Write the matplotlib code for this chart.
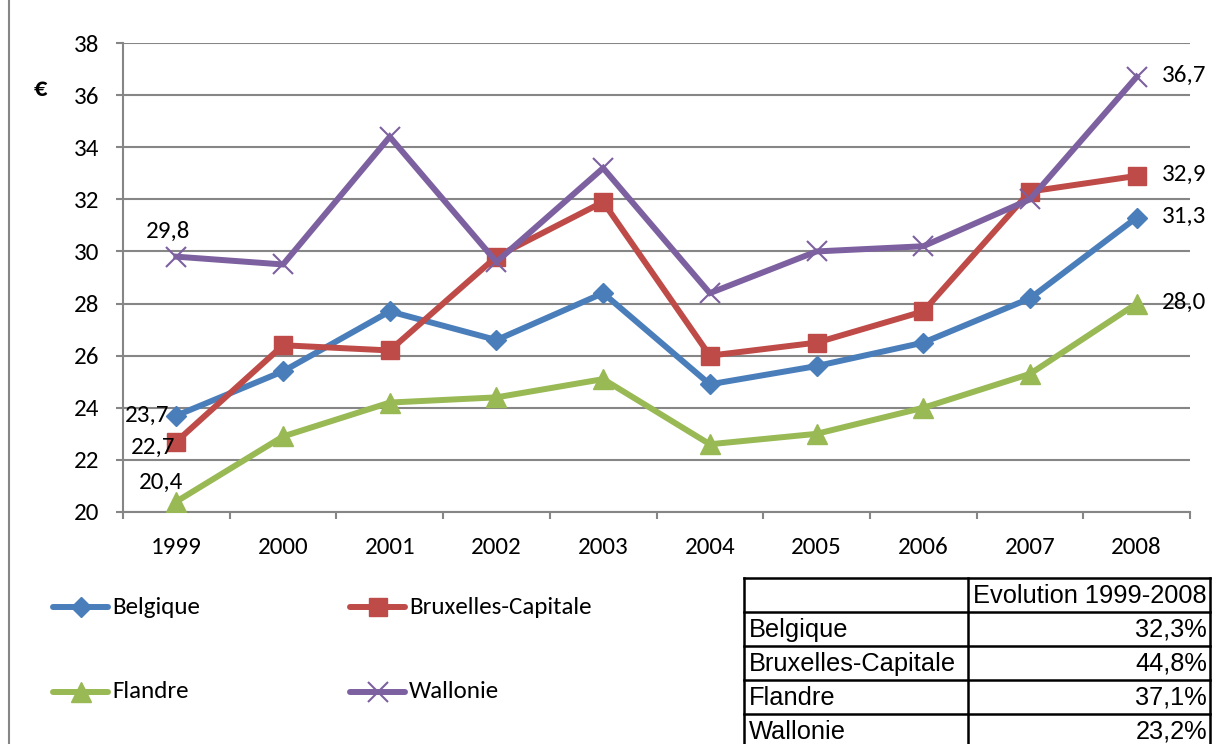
import matplotlib
matplotlib.use("Agg")
import matplotlib.pyplot as plt
from matplotlib import font_manager
from matplotlib.lines import Line2D
from matplotlib.transforms import IdentityTransform

years = ["1999", "2000", "2001", "2002", "2003", "2004", "2005", "2006", "2007", "2008"]
belgique = [23.7, 25.4, 27.7, 26.6, 28.4, 24.9, 25.6, 26.5, 28.2, 31.3]
bruxelles = [22.7, 26.4, 26.2, 29.8, 31.9, 26.0, 26.5, 27.7, 32.3, 32.9]
flandre = [20.4, 22.9, 24.2, 24.4, 25.1, 22.6, 23.0, 24.0, 25.3, 28.0]
wallonie = [29.8, 29.5, 34.4, 29.6, 33.2, 28.4, 30.0, 30.2, 32.0, 36.7]

series_names = ["Belgique", "Bruxelles-Capitale", "Flandre", "Wallonie"]
evolution = ["32,3%", "44,8%", "37,1%", "23,2%"]
y_ticks = [20, 22, 24, 26, 28, 30, 32, 34, 36, 38]

colors = ["#4A7EBB", "#BE4B48", "#98B954", "#7D60A0"]
markers = ["D", "s", "^", "x"]
msizes = [10, 13, 14, 14]

installed = {f.name for f in font_manager.fontManager.ttflist}
font, fs = ("Carlito", 18) if "Carlito" in installed else ("Lato", 17.5)
tfont = "Arimo" if "Arimo" in installed else "Liberation Sans"
tfs = 18.3

W, H = 1212, 744
fig = plt.figure(figsize=(W / 100, H / 100), dpi=100)
plt.rcParams["font.family"] = [font, "DejaVu Sans"]

ax = fig.add_axes([123 / W, 1 - 512 / H, (1190 - 123) / W, (512 - 43) / H])
x = list(range(len(years)))
data = [belgique, bruxelles, flandre, wallonie]
for vals, c, m, ms in zip(data, colors, markers, msizes):
    ax.plot(x, vals, color=c, lw=4.3, marker=m, ms=ms, mec=c, mfc=c,
            mew=1.5 if m == "x" else 1, solid_joinstyle="miter", zorder=3)

ax.set_xlim(-0.5, len(years) - 0.5)
ax.set_ylim(20, 38)
ax.set_yticks(y_ticks)
ax.set_yticklabels([str(v) for v in y_ticks], fontsize=fs)
ax.set_xticks([i - 0.5 for i in range(len(years) + 1)], minor=False)
ax.set_xticklabels([])
ax.set_xticks(x, minor=True)
ax.set_xticklabels(years, minor=True, fontsize=fs)
ax.tick_params(axis="x", which="minor", length=0, pad=18)
ax.tick_params(axis="x", which="major", length=5, width=1.5, color="#868686", direction="out")
ax.tick_params(axis="y", length=5, width=1.5, color="#868686", direction="out", pad=12)
ax.grid(axis="y", color="#868686", lw=1.5, zorder=0)
for s in ["top", "right"]:
    ax.spines[s].set_visible(False)
for s in ["left", "bottom"]:
    ax.spines[s].set_color("#868686")
    ax.spines[s].set_linewidth(1.5)

# data labels at both ends
ax.annotate("23,7", (0, belgique[0]), xytext=(-5, 0), textcoords="offset points",
            ha="right", va="center", fontsize=fs)
ax.annotate("22,7", (0, bruxelles[0]), xytext=(-1, -4), textcoords="offset points",
            ha="right", va="center", fontsize=fs)
ax.annotate("20,4", (0, flandre[0]), xytext=(-11, 14), textcoords="offset points",
            ha="center", va="center", fontsize=fs)
ax.annotate("29,8", (0, wallonie[0]), xytext=(-6, 18), textcoords="offset points",
            ha="center", va="center", fontsize=fs)
last = len(years) - 1
for vals in data:
    ax.annotate(f"{vals[-1]:.1f}".replace(".", ","), (last, vals[-1]), xytext=(18, 1),
                textcoords="offset points", ha="left", va="center", fontsize=fs,
                annotation_clip=False)

# currency unit
fig.text(40 / W, 1 - 88 / H, "€", fontsize=fs + 1, fontweight="bold", ha="center", va="center")

# outer chart border (left edge)
fig.add_artist(Line2D([9, 9], [0, H], transform=IdentityTransform(), color="#868686", lw=1.5))

# legend
leg_pos = [(53, 607), (350, 607), (53, 692), (350, 692)]
for (lx, ly), name, c, m, ms in zip(leg_pos, series_names, colors, markers, msizes):
    fig.add_artist(Line2D([lx, lx + 55], [H - ly, H - ly], transform=IdentityTransform(),
                          color=c, lw=4.3, solid_capstyle="round"))
    fig.add_artist(Line2D([lx + 27.5], [H - ly], transform=IdentityTransform(), color=c,
                          marker=m, ms=ms, mec=c, mfc=c, mew=1.5 if m == "x" else 1, lw=0))
    fig.text((lx + 59) / W, 1 - ly / H, name, fontsize=fs, ha="left", va="center")

# evolution table
col_x = [744, 968, 1210]
row_y = [578, 612, 646, 680, 714, 748]
lw_t = 1.8
for yy in row_y:
    fig.add_artist(Line2D([col_x[0], col_x[-1]], [H - yy, H - yy], transform=IdentityTransform(),
                          color="black", lw=lw_t))
for xx in col_x:
    fig.add_artist(Line2D([xx, xx], [H - row_y[0], H - row_y[-1]], transform=IdentityTransform(),
                          color="black", lw=lw_t))
fig.text((col_x[1] + 5) / W, 1 - (row_y[0] + 18) / H, "Evolution 1999-2008",
         fontsize=tfs, family=tfont, ha="left", va="center")
for i, (name, ev) in enumerate(zip(series_names, evolution)):
    yc = (row_y[i + 1] + row_y[i + 2]) / 2 + 1
    fig.text((col_x[0] + 5) / W, 1 - yc / H, name, fontsize=tfs, family=tfont,
             ha="left", va="center")
    fig.text((col_x[2] - 3) / W, 1 - yc / H, ev, fontsize=tfs, family=tfont,
             ha="right", va="center")

fig.savefig("out.png", dpi=100)
